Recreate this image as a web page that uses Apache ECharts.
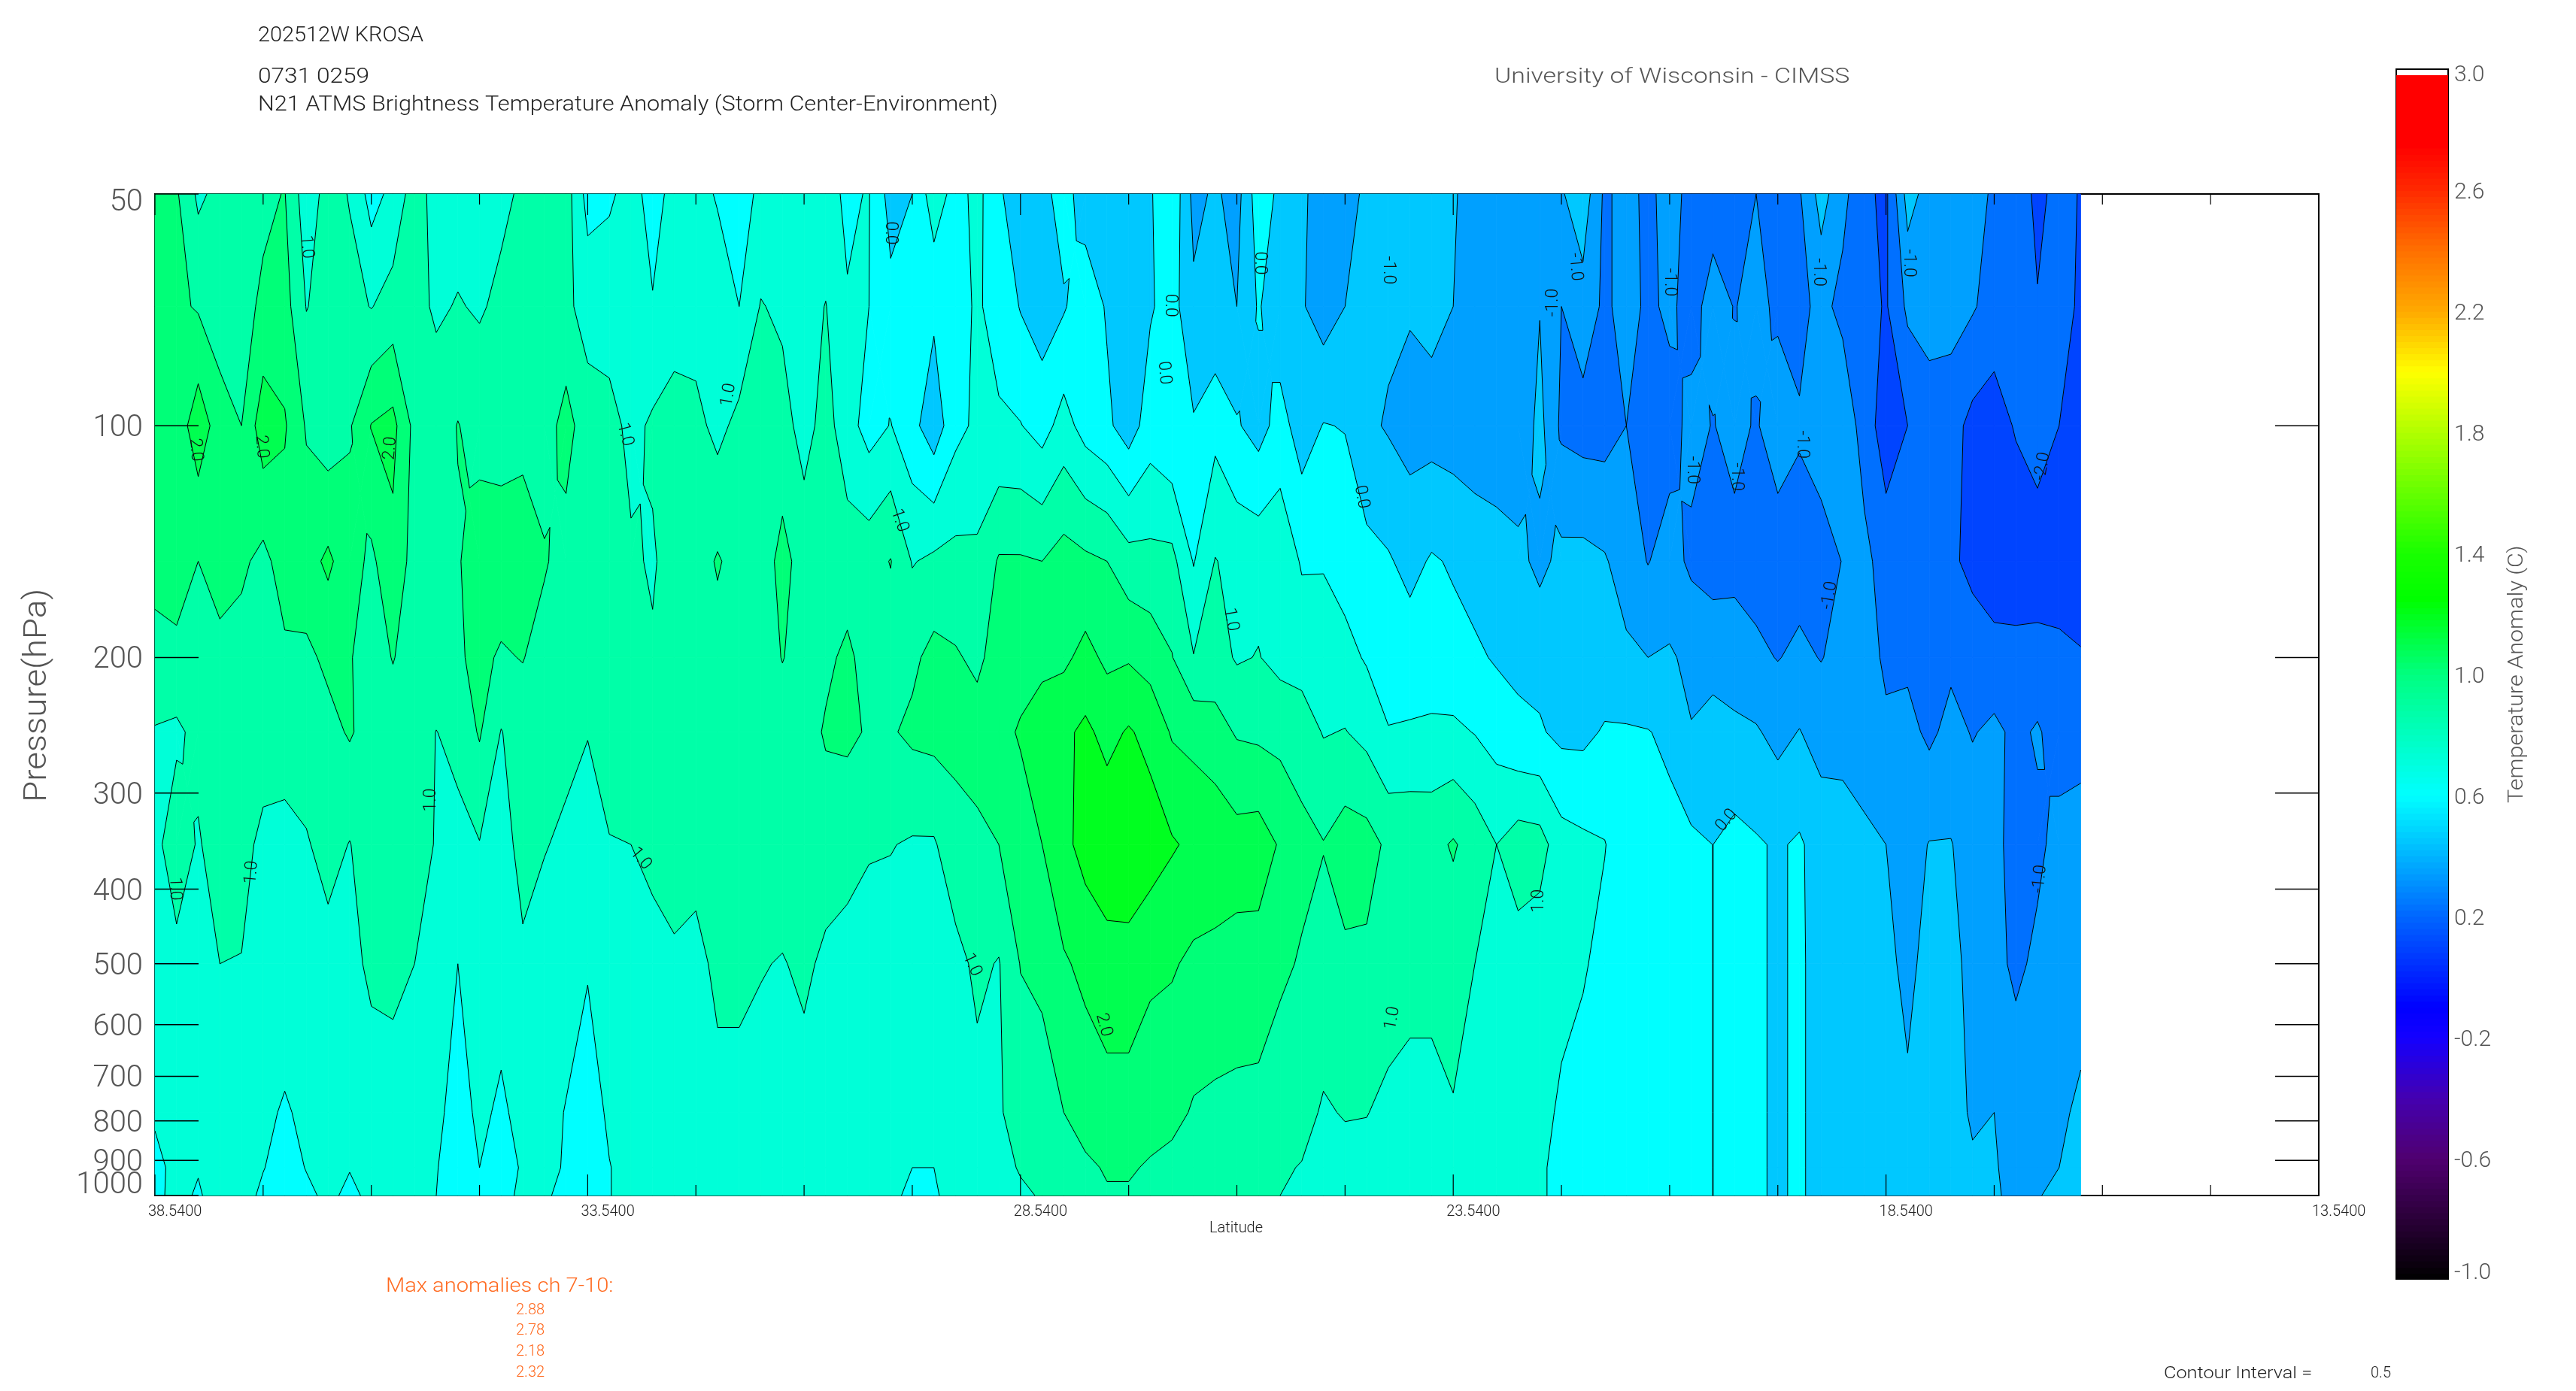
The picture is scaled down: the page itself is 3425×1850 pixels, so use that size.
<!DOCTYPE html>
<html><head><meta charset="utf-8">
<style>html,body{margin:0;padding:0;background:#fff}#c{width:3425px;height:1850px}</style>
<script src="https://cdn.jsdelivr.net/npm/echarts@6/dist/echarts.min.js"></script>
</head><body><div id="c"></div>
<script>
// Columns: latitude every 0.25 deg from 38.54 southward (90 columns)
const lat0 = 38.54, latStep = 0.25;
const pressureLevels = [50,70,100,150,200,250,350,500,780,920,1000];
const p50 = [1.7,1.56,.9,1.15,1.3,1.4,1.52,.7,1.2,.97,
 .3,.65,1.25,.8,.8,.75,.9,1.07,1.2,1.24,
 .31,.45,.62,.38,.6,.7,.45,.3,.6,.7,
 .75,.6,.45,.52,-.2,0,.8,.3,.65,.1,
 -.4,-.15,.2,-.25,-.3,-.3,-.05,.4,-.65,-.42,
 -.7,.3,-.12,-.42,-.7,-.6,-.45,-.4,-.45,-.35,
 -.45,-.7,-.75,-.8,-.7,-.55,-.2,-1.1,-.8,-1.15,
 -.75,-1.2,-1.25,-1.2,-1.0,-1.2,-1.05,-.3,-.85,-1.4,
 -1.6,-.3,-.7,-.7,-.75,-1.1,-1.0,-1.7,-1.25,-1.55];
const p70 = [1.75,1.6,1.45,1.2,1.35,1.58,1.7,.98,1.2,1.15,
 .98,1.2,1.15,.93,1.03,.95,1.1,1.2,1.2,1.1,
 .82,.7,.7,.52,.7,.75,.8,.5,1.03,.9,
 .75,1.02,.52,.5,.15,.02,.1,.35,.55,.35,
 -.03,-.25,-.05,.3,-.05,-.3,-.05,.2,-.4,-.45,
 -.5,.05,-.35,-.45,-.75,-.5,-.4,-.4,-.45,-.35,
 -.5,-.65,-.75,-.8,-.52,-1.0,-.7,-1.1,-.8,-1.1,
 -.9,-1.2,-.78,-1.02,-.85,-1.1,-1.15,-.85,-1.15,-1.3,
 -1.55,-.9,-.75,-.8,-.95,-1.2,-1.3,-1.45,-1.25,-1.6];
const p100 = [1.85,1.7,2.3,1.75,1.5,2.3,2.05,1.45,1.2,1.45,
 2.02,2.15,1.35,1.25,1.52,1.3,1.3,1.3,1.25,1.7,
 1.2,1.2,.85,1.08,1.25,1.15,.85,1.15,1.3,1.2,
 .8,1.2,.7,.3,.52,.15,-.3,.35,.6,.55,
 .52,.3,.7,.3,.1,-.25,.25,.02,.05,.35,
 .05,-.2,.2,-.25,.02,-.02,-.4,-.55,-.7,-.7,
 -.75,-.8,-.8,-.88,-.35,-1.1,-1.2,-1.2,-1.0,-1.2,
 -1.2,-.85,-1.02,-.85,-1.05,-.7,-.95,-.7,-.6,-1.25,
 -1.75,-1.5,-1.3,-1.3,-1.65,-1.75,-1.45,-1.2,-1.5,-1.8];
const p150 = [1.7,1.7,1.5,1.65,1.6,1.35,1.75,1.8,2.1,1.7,
 1.4,1.85,1.3,1.35,1.45,1.8,1.75,1.85,1.55,1.3,
 1.3,1.3,1.07,.95,1.2,1.25,1.55,1.3,1.25,1.65,
 1.3,1.3,1.25,1.3,1.52,.97,1.1,1.15,1.1,1.55,
 1.55,1.5,1.7,1.6,1.5,1.2,1.15,1.15,.47,1.02,
 .85,.85,.85,.45,.47,.3,.15,.05,-.15,.05,
 -.05,-.2,-.3,-.37,-.63,-.37,-.35,-.45,-.75,-1.02,
 -.8,-1.1,-1.2,-1.15,-1.2,-1.3,-1.2,-1.25,-.98,-.85,
 -1.25,-1.2,-1.3,-1.4,-1.65,-1.85,-1.9,-1.85,-1.85,-1.9];
const p200 = [1.3,1.4,1.35,1.4,1.3,1.35,1.4,1.4,1.6,1.53,
 1.3,1.52,1.3,1.35,1.45,1.6,1.45,1.52,1.3,1.3,
 1.25,1.25,1.25,1.05,1.25,1.3,1.3,1.25,1.25,1.52,
 1.3,1.4,1.6,1.3,1.25,1.4,1.65,1.55,1.4,1.7,
 1.8,1.9,1.9,2.15,1.9,1.95,1.8,1.52,1.02,1.2,
 .95,1.02,.85,.8,.7,.65,.45,.3,.25,.2,
 .15,.08,-.05,-.1,-.15,-.2,-.3,-.3,-.4,-.5,
 -.45,-.6,-.7,-.75,-.9,-1.02,-.9,-1.02,-.85,-.75,
 -1.1,-1.1,-1.1,-1.1,-1.2,-1.3,-1.3,-1.3,-1.35,-1.45];
const p250 = [.97,.9,1.15,1.2,1.25,1.3,1.3,1.3,1.35,1.55,
 1.3,1.3,1.25,.99,1.15,1.55,.98,1.25,1.25,1.15,
 1.02,1.2,1.25,1.25,1.25,1.25,1.25,1.25,1.25,1.25,
 1.3,1.55,1.6,1.45,1.45,1.6,1.65,1.65,1.7,1.85,
 2.05,2.2,2.4,2.6,2.35,2.55,2.35,1.95,1.85,1.7,
 1.45,1.4,1.35,1.25,.97,1.02,.85,.52,.55,.6,
 .6,.48,.3,.1,.05,-.12,-.12,.05,.05,.02,
 -.1,-.48,-.3,-.4,-.45,-.65,-.48,-.7,-.65,-.75,
 -.9,-.85,-1.1,-.85,-1.03,-.9,-1.1,-.95,-1.2,-1.25];
const p350 = [.85,1.3,.95,1.25,1.2,.85,.8,.95,1.2,.98,
 1.3,1.35,1.2,.97,.85,.98,.75,1.2,1.03,.9,
 .75,.98,1.0,1.15,1.3,1.25,1.35,1.35,1.3,1.3,
 1.3,1.25,1.15,1.05,1.02,.95,.95,1.3,1.4,1.5,
 1.75,2.0,2.35,2.7,2.85,2.88,2.75,2.55,2.4,2.35,
 2.2,2.25,1.95,1.65,1.52,1.75,1.7,1.4,1.4,1.35,
 1.55,1.3,1.0,1.25,1.2,.7,.6,.52,.2,.25,
 .15,.1,-.002,.15,.05,-.05,.06,-.2,-.3,-.4,
 -.5,-.7,-.48,-.48,-.7,-.85,-1.2,-1.1,-.85,-.7];
const p500 = [.8,.85,.9,1.0,.98,.85,.8,.75,.8,.85,
 1.1,1.15,1.0,.8,.5,.7,.7,.9,.75,.7,
 .55,.7,.75,.8,.9,.8,1.15,1.15,1.03,.97,
 1.1,.9,.85,.75,.8,.75,.75,.85,1.1,.97,
 1.52,1.55,1.95,2.1,2.3,2.3,2.1,2.05,1.9,1.85,
 1.85,1.8,1.6,1.45,1.3,1.4,1.4,1.35,1.2,1.15,
 1.2,1.0,.85,.8,.7,.6,.55,.35,.3,.3,
 .2,.15,-.002,.15,.05,-.05,.06,-.15,-.2,-.3,
 -.35,-.65,-.3,-.3,-.7,-.85,-1.1,-.9,-.8,-.75];
const p780 = [.55,.7,.75,.75,.7,.6,.45,.6,.7,.7,
 .75,.75,.7,.62,.3,.6,.42,.65,.65,.48,
 .2,.6,.7,.75,.8,.8,.8,.8,.8,.8,
 .8,.8,.8,.8,.8,.75,.75,.8,.85,.95,
 1.2,1.4,1.5,1.75,1.8,1.8,1.7,1.65,1.45,1.4,
 1.35,1.35,1.2,1.15,.95,1.03,1.02,.85,.8,.85,
 .97,.85,.7,.65,.6,.45,.3,.3,.25,.2,
 .2,.15,-.002,.15,.05,-.05,.06,-.15,-.2,-.25,
 -.3,-.4,-.3,-.35,-.55,-.5,-.7,-.8,-.6,-.4];
const p920 = [.4,.6,.53,.7,.65,.52,.3,.52,.7,.52,
 .7,.75,.7,.52,.3,.5,.3,.55,.65,.45,
 .2,.48,.7,.7,.7,.75,.75,.75,.75,.75,
 .75,.75,.75,.75,.7,.5,.5,.7,.75,.8,
 1.05,1.1,1.3,1.4,1.55,1.55,1.45,1.35,1.25,1.2,
 1.2,1.15,1.05,.98,.85,.85,.8,.75,.75,.75,
 .75,.7,.65,.6,.55,.4,.3,.3,.25,.2,
 .2,.15,-.002,.15,.05,-.05,.06,-.15,-.2,-.25,
 -.3,-.35,-.3,-.3,-.45,-.45,-.7,-.75,-.5,-.25];
const p1000 = [.4,.62,.45,.7,.7,.4,.2,.4,.6,.4,
 .6,.7,.65,.5,.2,.35,.35,.6,.55,.4,
 .2,.48,.7,.7,.7,.7,.7,.7,.7,.7,
 .7,.7,.7,.7,.6,.4,.45,.65,.7,.75,
 .9,1.05,1.2,1.35,1.45,1.45,1.35,1.25,1.2,1.1,
 1.1,1.05,1.0,.9,.85,.8,.8,.75,.7,.7,
 .7,.65,.6,.58,.55,.4,.3,.3,.25,.2,
 .2,.15,-.002,.15,.05,-.05,.06,-.15,-.2,-.25,
 -.3,-.3,-.3,-.3,-.35,-.45,-.6,-.55,-.3,-.2];
const rows = [p50,p70,p100,p150,p200,p250,p350,p500,p780,p920,p1000];

const contourLevels = [-1.5,-1,-.5,0,.5,1,1.5,2,2.5];
const bandColors = ['#0044ff','#0070ff','#00a0ff','#00c8ff','#00ffff','#00ffd8','#00ffa8','#00ff78','#00ff50','#00ff20'];

const pressureTicks = [50,100,200,300,400,500,600,700,800,900,1000];
const latLabels = [38.54,33.54,28.54,23.54,18.54,13.54];
const latTicks = [38.54,37.29,36.04,34.79,33.54,32.29,31.04,29.79,28.54,27.29,26.04,24.79,23.54,22.29,21.04,19.79,18.54,17.29,16.04,14.79,13.54];
const colorbarLabels = [-1,-.6,-.2,.2,.6,1,1.4,1.8,2.2,2.6,3];

const contourLabels = [
 [36.79,58.6,'1.0',-85],[33.11,102.7,'1.0',-75],[31.91,91.2,'1.0',80],[38.07,107.5,'2.0',-85],
 [37.31,106.5,'2.0',-85],[35.82,107,'2.0',85],[30.04,56.2,'0.0',-90],[26.81,69.8,'0.0',-90],
 [25.78,61.5,'0.0',-90],[24.29,62.8,'-1.0',-90],[26.88,85.4,'0.0',-85],[29.94,132.8,'1.0',-70],
 [24.6,123.8,'0.0',-80],[26.11,178.6,'1.0',-80],[22.13,62.2,'-1.0',-85],[22.38,69.2,'-1.0',90],
 [21.04,65.1,'-1.0',-90],[19.32,63.2,'-1.0',-90],[18.28,61.5,'-1.0',-90],[20.78,114.2,'-1.0',-90],
 [20.27,116.5,'-1.0',-90],[19.51,105.8,'-1.0',-90],[16.73,112.9,'-2.0',80],[19.19,166.2,'-1.0',80],
 [38.31,399.6,'1.0',-88],[37.42,380.4,'1.0',85],[35.35,306.4,'1.0',90],[32.93,365.2,'1.0',-50],
 [29.1,501.7,'1.0',-65],[27.58,600.5,'2.0',-75],[24.24,588.4,'1.0',80],[20.38,325.7,'0.0',50],
 [22.55,414.4,'1.0',90],[16.76,388,'-1.0',85]
];
const colorStops = [[-1,'#000000'],[-.8,'#2a0038'],[-.6,'#500070'],[-.4,'#4400b0'],[-.2,'#1400ff'],[-.1,'#0000ff'],[.2,'#0066ff'],[.4,'#00b4ff'],[.6,'#00ffff'],[.8,'#00ffc0'],[1,'#00ff80'],[1.25,'#00ff00'],[1.4,'#19ff00'],[1.8,'#b0ff00'],[2,'#ffff00'],[2.2,'#ffaa00'],[2.4,'#ff7000'],[2.6,'#ff2a00'],[2.75,'#ff0000'],[2.985,'#ff0000']];
const maxAnomalies = ['2.88','2.78','2.18','2.32'];

const THIN = '"Roboto","Liberation Sans",sans-serif';

function hex(c){return [parseInt(c.slice(1,3),16),parseInt(c.slice(3,5),16),parseInt(c.slice(5,7),16)];}
function colorAt(v){
  for(let i=1;i<colorStops.length;i++){
    if(v<=colorStops[i][0]){
      const a=colorStops[i-1],b=colorStops[i],t=(v-a[0])/(b[0]-a[0]),A=hex(a[1]),B=hex(b[1]);
      return 'rgb('+A.map((x,k)=>Math.round(x+(B[k]-x)*t)).join(',')+')';
    }
  }
  return colorStops[colorStops.length-1][1];
}
function latOf(i){return lat0-i*latStep;}
const cells=[];
for(let j=0;j<rows.length-1;j++)for(let i=0;i<rows[0].length-1;i++)cells.push([latOf(i),pressureLevels[j],i,j]);

function corners(api,i,j){
  const pts=[[i,j],[i+1,j],[i+1,j+1],[i,j+1]];
  return pts.map(q=>{const c=api.coord([latOf(q[0]),pressureLevels[q[1]]]);return {x:c[0],y:c[1],v:rows[q[1]][q[0]]};});
}
// A cell with a saddle at some level is split into four triangles around its mean
function cellPolys(q){
  const saddle=contourLevels.some(l=>{
    const s=q.map(p=>p.v>=l);
    return s[0]===s[2]&&s[1]===s[3]&&s[0]!==s[1];
  });
  if(!saddle)return [q];
  const c={x:(q[0].x+q[1].x+q[2].x+q[3].x)/4,y:(q[0].y+q[1].y+q[2].y+q[3].y)/4,v:(q[0].v+q[1].v+q[2].v+q[3].v)/4};
  return [[q[0],q[1],c],[q[1],q[2],c],[q[2],q[3],c],[q[3],q[0],c]];
}
function lerp(a,b,l){const t=(l-a.v)/(b.v-a.v);return {x:a.x+(b.x-a.x)*t,y:a.y+(b.y-a.y)*t,v:l};}
function clip(poly,l,keepAbove){
  const out=[];
  for(let k=0;k<poly.length;k++){
    const a=poly[k],b=poly[(k+1)%poly.length];
    const ia=keepAbove?a.v>=l:a.v<l, ib=keepAbove?b.v>=l:b.v<l;
    if(ia)out.push(a);
    if(ia!==ib)out.push(lerp(a,b,l));
  }
  return out;
}
function renderFill(params,api){
  const ch=[];
  cellPolys(corners(api,api.value(2),api.value(3))).forEach(q=>{
    for(let b=0;b<bandColors.length;b++){
      let poly=q;
      if(b>0)poly=clip(poly,contourLevels[b-1],true);
      if(b<contourLevels.length&&poly.length)poly=clip(poly,contourLevels[b],false);
      if(poly.length>=3)ch.push({type:'polygon',shape:{points:poly.map(p=>[p.x,p.y])},style:{fill:bandColors[b],stroke:bandColors[b],lineWidth:.8},silent:true});
    }
  });
  return {type:'group',children:ch,silent:true};
}
function renderLines(params,api){
  const ch=[];
  const seg=(a,b)=>ch.push({type:'line',shape:{x1:a.x,y1:a.y,x2:b.x,y2:b.y},style:{stroke:'#000',lineWidth:1},silent:true});
  cellPolys(corners(api,api.value(2),api.value(3))).forEach(q=>{
    contourLevels.forEach(l=>{
      const x=[];
      for(let k=0;k<q.length;k++){
        const a=q[k],b=q[(k+1)%q.length];
        if((a.v>=l)!==(b.v>=l))x.push(lerp(a,b,l));
      }
      if(x.length===2)seg(x[0],x[1]);
    });
  });
  return {type:'group',children:ch,silent:true};
}
function renderPressureTicks(params,api){
  const p=api.value(1),a=api.coord([38.54,p]),b=api.coord([13.54,p]);
  const dy=p===50?12:(p===1000?-13:4);
  return {type:'group',silent:true,children:[
    {type:'line',shape:{x1:a[0],y1:a[1],x2:a[0]+58,y2:a[1]},style:{stroke:'#000',lineWidth:1.5}},
    {type:'line',shape:{x1:b[0]-58,y1:b[1],x2:b[0],y2:b[1]},style:{stroke:'#000',lineWidth:1.5}},
    {type:'text',x:a[0]-16,y:a[1]+dy,style:{text:String(p),fontSize:40,fontFamily:THIN,fontWeight:300,fill:'#555',textAlign:'right',textVerticalAlign:'middle'}}]};
}
function renderLatTicks(params,api){
  const major=latLabels.indexOf(api.value(0))>=0, len=major?28:14;
  const a=api.coord([api.value(0),50]),b=api.coord([api.value(0),1000]);
  return {type:'group',silent:true,children:[
    {type:'line',shape:{x1:a[0],y1:a[1],x2:a[0],y2:a[1]+len},style:{stroke:'#000',lineWidth:1.2}},
    {type:'line',shape:{x1:b[0],y1:b[1]-len,x2:b[0],y2:b[1]},style:{stroke:'#000',lineWidth:1.2}}]};
}
function renderContourLabel(params,api){
  const c=api.coord([api.value(0),api.value(1)]);
  const d=contourLabels[params.dataIndex];
  return {type:'text',x:c[0],y:c[1],rotation:d[3]*Math.PI/180,silent:true,
    style:{text:d[2],fontSize:23,fontFamily:THIN,fontWeight:300,fill:'#111',textAlign:'center',textVerticalAlign:'middle'}};
}
const barSteps=[];for(let k=0;k<199;k++)barSteps.push([0,-1+k*0.02,-1+(k+1)*0.02]);
function renderBar(params,api){
  const a=api.coord([0,api.value(1)]),b=api.coord([1,api.value(2)]);
  return {type:'rect',silent:true,shape:{x:a[0],y:b[1],width:b[0]-a[0],height:a[1]-b[1]+1},style:{fill:colorAt(api.value(1)+.01)}};
}
function renderBarLabel(params,api){
  const v=api.value(1),c=api.coord([1,v]);
  const dy=v===3?8:(v===-1?-8:4);
  return {type:'text',x:c[0]+8,y:c[1]+dy,silent:true,style:{text:v.toFixed(1),fontSize:30,fontFamily:THIN,fontWeight:300,fill:'#555',textAlign:'left',textVerticalAlign:'middle'}};
}
function txt(text,x,y,size,fill,extra){
  return Object.assign({type:'text',x:x,y:y,silent:true,style:{text:text,fontSize:size,fontFamily:THIN,fontWeight:300,fill:fill,textAlign:'left',textVerticalAlign:'middle'}},extra||{});
}
const orange='#ff6a20',ink='#222',grey='#555';
const graphics=[
 txt('202512W KROSA',343,48,28,ink,{scaleX:1.03}),
 txt('0731 0259',343,103,28,ink,{scaleX:1.13}),
 txt('N21 ATMS Brightness Temperature Anomaly (Storm Center-Environment)',343,140,28,ink,{scaleX:1.095}),
 txt('University of Wisconsin - CIMSS',1987,103,28,grey,{scaleX:1.21}),
 txt('Pressure(hPa)',50,1067,42,grey,{rotation:Math.PI/2,scaleX:1.09}),
 txt('Latitude',1608,1634,20,ink),
 txt('Max anomalies ch 7-10:',513,1711,26,orange,{scaleX:1.12}),
 txt('Contour Interval =',2877,1827,22,ink,{scaleX:1.15}),
 txt('0.5',3152,1827,20,ink),
 txt('Temperature Anomaly (C)',3347,1068,28,grey,{rotation:Math.PI/2,scaleX:1.09})
];
maxAnomalies.forEach((v,k)=>graphics.push(txt(v,686,[1743,1770,1798,1826][k],20,orange)));

const chart=echarts.init(document.getElementById('c'),null,{renderer:'canvas'});
chart.setOption({
  animation:false,backgroundColor:'#fff',
  graphic:{elements:graphics},
  grid:[
    {left:206,top:258,width:2877,height:1332,show:true,borderColor:'#000',borderWidth:2,backgroundColor:'transparent'},
    {left:3186,top:92,width:69,height:1609,show:true,borderColor:'#000',borderWidth:2,backgroundColor:'transparent'}
  ],
  xAxis:[
    {gridIndex:0,type:'value',inverse:true,min:13.54,max:38.54,splitLine:{show:false},axisLine:{show:false},axisTick:{show:false},
     axisLabel:{show:true,customValues:latLabels,formatter:v=>Number(v).toFixed(4),fontSize:20,fontFamily:THIN,fontWeight:300,color:ink,margin:12,align:'left',padding:[0,0,0,-9]}},
    {gridIndex:1,type:'value',min:0,max:1,show:false}
  ],
  yAxis:[
    {gridIndex:0,type:'log',logBase:10,inverse:true,min:50,max:1000,splitLine:{show:false},axisLine:{show:false},axisTick:{show:false},axisLabel:{show:false}},
    {gridIndex:1,type:'value',min:-1,max:3,interval:.4,position:'left',splitLine:{show:false},axisLine:{show:false},axisLabel:{show:false},
     axisTick:{inside:true,length:14,lineStyle:{color:'#000',width:1.5}},minorTick:{show:true,splitNumber:2,length:7,lineStyle:{color:'#000',width:1.5}}},
    {gridIndex:1,type:'value',min:-1,max:3,interval:.4,position:'right',splitLine:{show:false},axisLine:{show:false},axisLabel:{show:false},
     axisTick:{inside:true,length:14,lineStyle:{color:'#000',width:1.5}},minorTick:{show:true,splitNumber:2,length:7,lineStyle:{color:'#000',width:1.5}}}
  ],
  series:[
    {type:'custom',xAxisIndex:0,yAxisIndex:0,data:cells,encode:{x:0,y:1},renderItem:renderFill,z:1,silent:true,clip:false},
    {type:'custom',xAxisIndex:0,yAxisIndex:0,data:cells,encode:{x:0,y:1},renderItem:renderLines,z:2,silent:true},
    {type:'custom',xAxisIndex:0,yAxisIndex:0,data:pressureTicks.map(p=>[38.54,p]),encode:{x:0,y:1},renderItem:renderPressureTicks,z:3,silent:true},
    {type:'custom',xAxisIndex:0,yAxisIndex:0,data:latTicks.map(l=>[l,1000]),encode:{x:0,y:1},renderItem:renderLatTicks,z:3,silent:true},
    {type:'custom',xAxisIndex:0,yAxisIndex:0,data:contourLabels.map(d=>[d[0],d[1]]),encode:{x:0,y:1},renderItem:renderContourLabel,z:4,silent:true},
    {type:'custom',xAxisIndex:1,yAxisIndex:1,data:barSteps,encode:{x:0,y:1},renderItem:renderBar,z:1,silent:true},
    {type:'custom',xAxisIndex:1,yAxisIndex:1,data:colorbarLabels.map(v=>[1,v]),encode:{x:0,y:1},renderItem:renderBarLabel,z:3,silent:true}
  ]
});
</script></body></html>
